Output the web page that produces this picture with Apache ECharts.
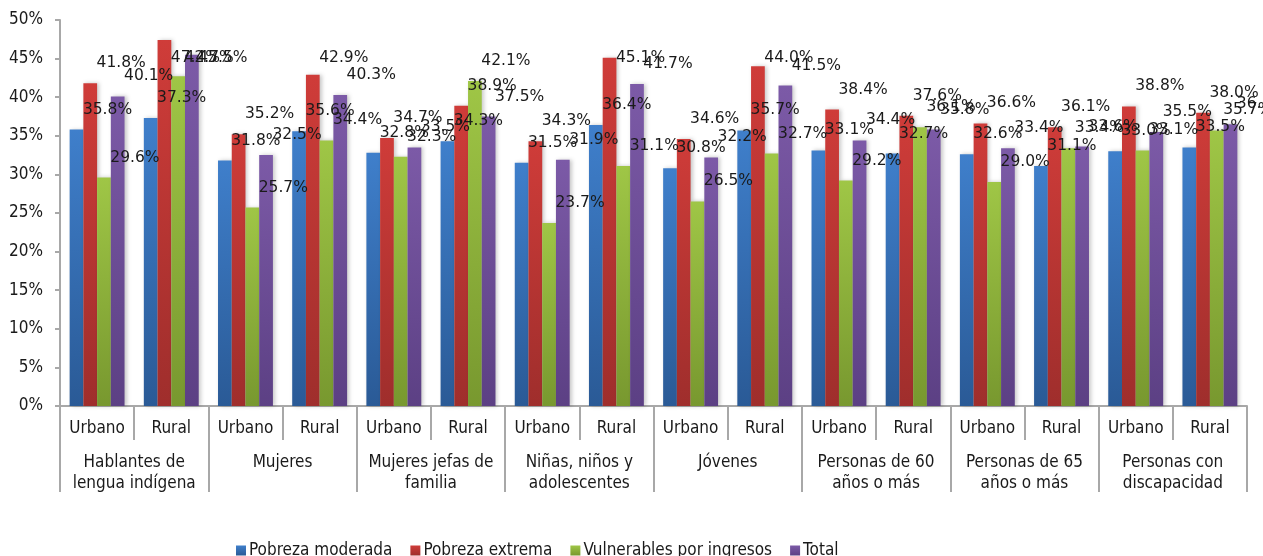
<!DOCTYPE html>
<html>
<head>
<meta charset="utf-8">
<title>Pobreza por grupo</title>
<script src="https://cdn.jsdelivr.net/npm/echarts@6/dist/echarts.min.js"></script>
<style>
    html, body { margin: 0; padding: 0; background: #fff; }
    #chart { width: 1263px; height: 556px; }
</style>
</head>
<body>
<div id="chart"></div>
<script>
// data
var zones = ['Urbano', 'Rural', 'Urbano', 'Rural', 'Urbano', 'Rural', 'Urbano', 'Rural',
             'Urbano', 'Rural', 'Urbano', 'Rural', 'Urbano', 'Rural', 'Urbano', 'Rural'];
var groups = ['Hablantes de\nlengua indígena', 'Mujeres', 'Mujeres jefas de\nfamilia',
              'Niñas, niños y\nadolescentes', 'Jóvenes', 'Personas de 60\naños o más',
              'Personas de 65\naños o más', 'Personas con\ndiscapacidad'];
var yTicks = [0, 5, 10, 15, 20, 25, 30, 35, 40, 45, 50];

var moderada = [35.8, 37.3, 31.8, 35.6, 32.8, 34.3, 31.5, 36.4, 30.8, 35.7, 33.1, 32.7, 32.6, 31.1, 33.0, 33.5];
var extrema = [41.8, 47.4, 35.2, 42.9, 34.7, 38.9, 34.3, 45.1, 34.6, 44.0, 38.4, 37.6, 36.6, 36.1, 38.8, 38.0];
var vulnerables = [29.6, 42.7, 25.7, 34.4, 32.3, 42.1, 23.7, 31.1, 26.5, 32.7, 29.2, 36.1, 29.0, 33.4, 33.1, 35.7];
var total = [40.1, 45.5, 32.5, 40.3, 33.5, 37.5, 31.9, 41.7, 32.2, 41.5, 34.4, 35.8, 33.4, 33.6, 35.5, 36.5];

var seriesNames = ['Pobreza moderada', 'Pobreza extrema', 'Vulnerables por ingresos', 'Total'];
var seriesData = [moderada, extrema, vulnerables, total];
var topColors = ['#3f7fcb', '#cf3c39', '#9fc646', '#7c5aa7'];
var bottomColors = ['#2a5a96', '#9f2e2c', '#78982f', '#5c4084'];

var axisFont = '"DejaVu Sans Condensed", "Liberation Sans Narrow", "DejaVu Sans", sans-serif';
var axisGray = '#a8a8a8';
var labelOffset = [31, -7];
var labelCeil = 42.5; // labels of taller bars stay at this level, like the original

var chart = echarts.init(document.getElementById('chart'));

function buildSeries(pxPerUnit) {
    return seriesData.map(function (data, i) {
        return {
            name: seriesNames[i],
            type: 'bar',
            xAxisIndex: 0,
            barGap: '0%',
            barCategoryGap: '26%',
            data: data.map(function (v) {
                if (!pxPerUnit || v <= labelCeil) return v;
                return { value: v, label: { offset: [labelOffset[0], labelOffset[1] + (v - labelCeil) * pxPerUnit] } };
            }),
            itemStyle: {
                color: new echarts.graphic.LinearGradient(0, 0, 0, 1, [
                    { offset: 0, color: topColors[i] },
                    { offset: 1, color: bottomColors[i] }
                ]),
                shadowColor: 'rgba(0,0,0,0.22)',
                shadowBlur: 4,
                shadowOffsetX: 2
            },
            label: {
                show: true,
                position: 'top',
                offset: labelOffset,
                fontFamily: '"DejaVu Sans", Verdana, sans-serif',
                fontSize: 15.5,
                color: '#1a1a1a',
                formatter: function (p) { return p.value.toFixed(1) + '%'; }
            },
            emphasis: { disabled: true }
        };
    });
}

chart.setOption({
    animation: false,
    backgroundColor: '#ffffff',
    title: {
        text: 'Incidencia por grupo vulnerable y ámbito rural y urbano, 2012',
        left: 86,
        top: -35,
        textStyle: {
            fontFamily: '"DejaVu Sans", sans-serif',
            fontWeight: 'bold',
            fontSize: 28,
            color: '#000'
        }
    },
    legend: {
        left: 231,
        top: 537,
        itemWidth: 10,
        itemHeight: 10,
        itemGap: 18,
        icon: 'rect',
        textStyle: { fontFamily: axisFont, fontSize: 17, color: '#1a1a1a', padding: [0, 0, 0, -2] },
        data: seriesNames
    },
    grid: { left: 60, right: 16, top: 20, bottom: 150, containLabel: false },
    xAxis: [{
        type: 'category',
        data: zones,
        position: 'bottom',
        axisLine: { lineStyle: { color: axisGray, width: 2 } },
        axisTick: { show: true, interval: 0, length: 34, lineStyle: { color: axisGray, width: 2 } },
        axisLabel: {
            interval: 0,
            margin: 12,
            fontFamily: axisFont,
            fontSize: 17,
            lineHeight: 21,
            color: '#1a1a1a'
        }
    }, {
        type: 'category',
        data: groups,
        position: 'bottom',
        axisLine: { show: false },
        axisTick: { show: true, interval: 0, length: 86, lineStyle: { color: axisGray, width: 2 } },
        axisLabel: {
            interval: 0,
            margin: 46,
            fontFamily: axisFont,
            fontSize: 17,
            lineHeight: 21,
            color: '#1a1a1a'
        }
    }],
    yAxis: {
        type: 'value',
        min: yTicks[0],
        max: yTicks[yTicks.length - 1],
        interval: 5,
        axisLine: { show: true, lineStyle: { color: axisGray, width: 2 } },
        axisTick: { show: true, length: 5, lineStyle: { color: axisGray, width: 2 } },
        splitLine: { show: false },
        axisLabel: {
            margin: 17,
            fontFamily: axisFont,
            fontSize: 17,
            color: '#1a1a1a',
            formatter: '{value}%'
        }
    },
    series: buildSeries(0)
});

// pixels per percentage point, taken from the y scale
var y0 = chart.convertToPixel({ yAxisIndex: 0 }, 0);
var y50 = chart.convertToPixel({ yAxisIndex: 0 }, 50);
chart.setOption({ series: buildSeries((y0 - y50) / 50) });
</script>
</body>
</html>
